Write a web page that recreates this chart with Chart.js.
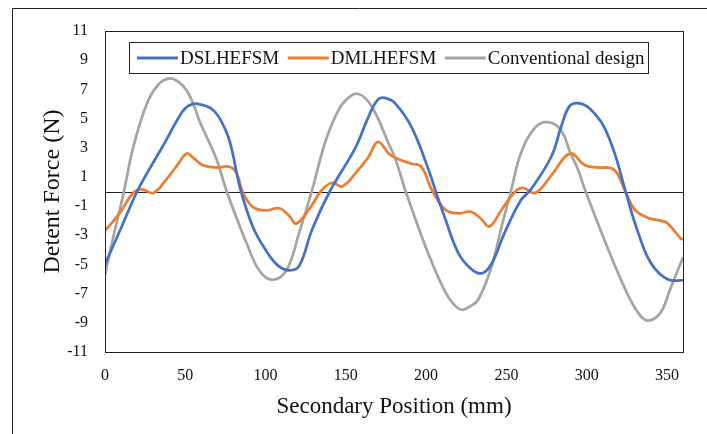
<!DOCTYPE html>
<html>
<head>
<meta charset="utf-8">
<script src="https://cdn.jsdelivr.net/npm/chart.js@4.4.1/dist/chart.umd.min.js"></script>
<style>
html,body{margin:0;padding:0;background:#fff;}
canvas{display:block;}
</style>
</head>
<body>
<canvas id="c" width="707" height="434"></canvas>
<script>
// ---- data ----
const seriesNames = ['DSLHEFSM', 'DMLHEFSM', 'Conventional design'];
const yTicks = [-11, -9, -7, -5, -3, -1, 1, 3, 5, 7, 9, 11];
const xTicks = [0, 50, 100, 150, 200, 250, 300, 350];

const dslX = [0, 10, 20, 28, 37, 45, 50, 55, 60, 66, 71, 77.5, 84, 92, 100, 108, 115, 121, 129, 140, 156, 164, 170, 175, 181, 191, 201.5, 206, 212, 220, 228, 235, 241, 249, 259, 265, 278, 284, 289, 294, 300, 306, 311, 317.5, 324, 332, 340, 350, 360];
const dslY = [-5.0, -2.5, 0.0, 1.6, 3.3, 4.9, 5.7, 6.0, 5.95, 5.7, 5.1, 3.5, 0.3, -2.4, -4.0, -5.1, -5.4, -5.1, -2.6, 0.0, 3.0, 5.1, 6.3, 6.4, 6.0, 4.4, 1.5, 0.0, -1.9, -4.2, -5.3, -5.6, -4.9, -2.8, -0.6, 0.1, 2.4, 4.4, 5.8, 6.05, 5.85, 5.2, 4.4, 2.6, 0.1, -2.8, -4.9, -6.0, -6.1];

const dmlX = [0, 9, 17.5, 23, 30, 38, 45, 51, 55, 61, 69.5, 77.5, 82, 86, 92, 100, 108.5, 115, 119, 127, 135, 141.6, 147.6, 156, 164, 170, 176.7, 181, 191, 197, 203.6, 212, 220, 228, 234.5, 239.4, 247, 255.5, 260.5, 268, 278, 289.6, 299, 307, 315, 319, 324.5, 330, 338, 346, 350, 358.5, 360];
const dmlY = [-2.7, -1.5, -0.1, 0.15, -0.1, 0.8, 1.8, 2.6, 2.3, 1.8, 1.65, 1.7, 1.25, -0.1, -1.05, -1.3, -1.15, -1.7, -2.2, -1.25, 0.1, 0.6, 0.35, 1.25, 2.35, 3.4, 2.6, 2.3, 1.9, 1.7, 0.1, -1.25, -1.5, -1.4, -1.9, -2.4, -1.25, 0.0, 0.25, -0.1, 1.1, 2.6, 1.8, 1.65, 1.6, 1.25, -0.1, -1.25, -1.8, -2.0, -2.15, -3.2, -3.3];

const convX = [0, 5, 11.8, 17.5, 26, 33, 40, 46, 51, 55, 59, 69.5, 75.5, 84, 88, 96, 104, 113, 121, 129, 137.5, 146, 152, 157, 163, 168.5, 177, 181, 187, 195, 203, 212, 217, 222, 227, 232.5, 240.6, 247, 253, 259, 268, 276, 284, 290, 294.6, 299, 311, 324, 332, 338, 346, 352, 360];
const convY = [-5.7, -3.2, 0.0, 3.0, 6.0, 7.3, 7.75, 7.5, 6.9, 6.0, 4.8, 2.2, 0.1, -2.4, -3.5, -5.4, -6.05, -5.4, -2.8, 0.1, 3.5, 5.7, 6.45, 6.7, 6.3, 5.35, 3.2, 2.2, 0.1, -2.4, -4.7, -6.9, -7.7, -8.1, -7.9, -7.4, -5.2, -2.4, 0.1, 2.6, 4.4, 4.75, 4.2, 2.6, 1.5, 0.1, -3.3, -6.7, -8.3, -8.85, -8.3, -6.7, -4.5];

const colors = ['#4472C4', '#ED7D31', '#A5A5A5'];

function pts(xs, ys) { return xs.map((x, i) => ({x: x, y: ys[i]})); }

const FONT = '"Liberation Serif", "Times New Roman", serif';

const framePlugin = {
  id: 'frame',
  beforeDraw(chart) {
    const ctx = chart.ctx;
    ctx.save();
    ctx.fillStyle = '#fff';
    ctx.fillRect(0, 0, chart.width, chart.height);
    ctx.strokeStyle = '#222';
    ctx.lineWidth = 1;
    ctx.beginPath();
    ctx.moveTo(12.5, chart.height);
    ctx.lineTo(12.5, 8.5);
    ctx.lineTo(chart.width, 8.5);
    ctx.stroke();
    ctx.restore();
  },
  beforeDatasetsDraw(chart) {
    const ctx = chart.ctx, a = chart.chartArea;
    const y0 = Math.round(chart.scales.y.getPixelForValue(0)) + 0.5;
    ctx.save();
    ctx.strokeStyle = '#222';
    ctx.lineWidth = 1;
    ctx.beginPath();
    ctx.moveTo(a.left, y0);
    ctx.lineTo(a.right, y0);
    ctx.stroke();
    ctx.restore();
  },
  afterDatasetsDraw(chart) {
    const ctx = chart.ctx, a = chart.chartArea;
    ctx.save();
    ctx.strokeStyle = '#222';
    ctx.lineWidth = 1;
    ctx.strokeRect(Math.round(a.left) + 0.5, Math.round(a.top) + 0.5, Math.round(a.right - a.left), Math.round(a.bottom - a.top));
    // legend
    const bx = 129.5, by = 42.5, bw = 519, bh = 31;
    ctx.fillStyle = '#fff';
    ctx.fillRect(bx, by, bw, bh);
    ctx.strokeStyle = '#222';
    ctx.strokeRect(bx, by, bw, bh);
    ctx.font = '19px ' + FONT;
    ctx.textBaseline = 'middle';
    ctx.textAlign = 'left';
    let x = 137;
    const cy = 58;
    chart.data.datasets.forEach((ds, i) => {
      ctx.strokeStyle = ds.borderColor;
      ctx.lineWidth = 3;
      ctx.beginPath();
      ctx.moveTo(x, cy);
      ctx.lineTo(x + 41, cy);
      ctx.stroke();
      x += 43;
      ctx.fillStyle = '#111';
      ctx.fillText(ds.label, x, cy + 1);
      x += ctx.measureText(ds.label).width + 8.5;
    });
    ctx.restore();
  }
};

const ds = [pts(dslX, dslY), pts(dmlX, dmlY), pts(convX, convY)].map((d, i) => ({
  label: seriesNames[i],
  data: d,
  borderColor: colors[i],
  backgroundColor: colors[i],
  borderWidth: 2.75,
  pointRadius: 0,
  tension: 0.4,
  fill: false
}));

new Chart(document.getElementById('c'), {
  type: 'line',
  data: { datasets: ds },
  options: {
    responsive: false,
    animation: false,
    events: [],
    layout: { padding: { left: 0, right: 24, top: 31, bottom: 0 } },
    plugins: { legend: { display: false }, tooltip: { enabled: false } },
    scales: {
      x: {
        type: 'linear', min: 0, max: 360,
        afterBuildTicks(s) { s.ticks = xTicks.map(v => ({value: v})); },
        afterFit(s) { s.height = 82; },
        grid: { display: false },
        border: { display: false },
        ticks: { color: '#111', padding: 6, font: { family: FONT, size: 16 } },
        title: { display: true, text: 'Secondary Position (mm)', color: '#111',
                 font: { family: FONT, size: 23 }, padding: { top: 0, bottom: 13 } }
      },
      y: {
        type: 'linear', min: -11, max: 11,
        afterBuildTicks(s) { s.ticks = yTicks.map(v => ({value: v})); },
        afterFit(s) { s.width = 105; },
        grid: { display: false },
        border: { display: false },
        ticks: { color: '#111', padding: 9, font: { family: FONT, size: 16 } },
        title: { display: true, text: 'Detent Force (N)', color: '#111',
                 font: { family: FONT, size: 24 }, padding: { top: 38, bottom: 0 } }
      }
    }
  },
  plugins: [framePlugin]
});
</script>
</body>
</html>
